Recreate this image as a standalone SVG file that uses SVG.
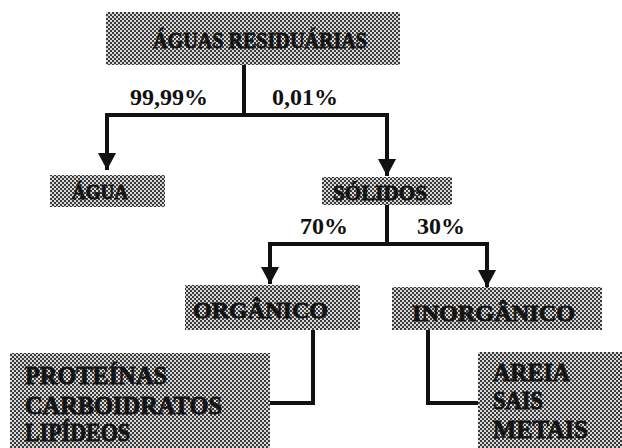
<svg xmlns="http://www.w3.org/2000/svg" width="622" height="448" viewBox="0 0 622 448">
  <defs>
    <pattern id="dots" width="4" height="4" patternUnits="userSpaceOnUse">
      <rect width="4" height="4" fill="#d8d8d8"/>
      <rect x="0" y="0" width="2" height="2" fill="#3a3a3a"/>
      <rect x="2" y="2" width="2" height="2" fill="#3a3a3a"/>
    </pattern>
    <marker id="arrow" markerUnits="userSpaceOnUse" markerWidth="20" markerHeight="20" viewBox="0 0 20 20" refX="17" refY="10" orient="auto">
      <path d="M0,1 L17,10 L0,19 Z" fill="#111"/>
    </marker>
  </defs>
  <style>
    .box { fill: url(#dots); }
    .lbl { font-family: "Liberation Serif", "Times New Roman", serif; font-weight: bold; fill: #141414; stroke: #141414; stroke-width: 0.8; }
    .pct { font-family: "Liberation Serif", "Times New Roman", serif; font-weight: bold; fill: #111; font-size: 24px; }
    .ln { fill: none; stroke: #111; stroke-width: 4; stroke-linejoin: miter; }
  </style>
  <rect width="622" height="448" fill="#ffffff"/>

  <g id="connectors">
    <path class="ln" d="M244,65 V115"/>
    <path class="ln" d="M105,115 H389"/>
    <path class="ln" d="M107,113 V170" marker-end="url(#arrow)"/>
    <path class="ln" d="M387,113 V176" marker-end="url(#arrow)"/>
    <path class="ln" d="M387,205 V244"/>
    <path class="ln" d="M268,244 H489"/>
    <path class="ln" d="M270,242 V284" marker-end="url(#arrow)"/>
    <path class="ln" d="M487,242 V287" marker-end="url(#arrow)"/>
    <path class="ln" d="M313,330 V403 H270"/>
    <path class="ln" d="M428,330 V403 H478"/>
    <text class="pct" x="130" y="105" textLength="78" lengthAdjust="spacingAndGlyphs">99,99%</text>
    <text class="pct" x="272" y="105" textLength="66" lengthAdjust="spacingAndGlyphs">0,01%</text>
    <text class="pct" x="300" y="234" textLength="48" lengthAdjust="spacingAndGlyphs">70%</text>
    <text class="pct" x="417" y="234" textLength="48" lengthAdjust="spacingAndGlyphs">30%</text>
  </g>

  <g id="aguas-residuarias">
    <rect class="box" x="106" y="12" width="294" height="53"/>
    <text class="lbl" x="153" y="48" font-size="24" textLength="214" lengthAdjust="spacingAndGlyphs">ÁGUAS RESIDUÁRIAS</text>
  </g>
  <g id="agua">
    <rect class="box" x="50" y="175" width="115" height="32"/>
    <text class="lbl" x="72" y="199" font-size="20" textLength="56" lengthAdjust="spacingAndGlyphs">ÁGUA</text>
  </g>
  <g id="solidos">
    <rect class="box" x="322" y="177" width="130" height="28"/>
    <text class="lbl" x="333" y="200" font-size="20" textLength="94" lengthAdjust="spacingAndGlyphs">SÓLIDOS</text>
  </g>
  <g id="organico">
    <rect class="box" x="185" y="285" width="175" height="45"/>
    <text class="lbl" x="193" y="318" font-size="23" textLength="135" lengthAdjust="spacingAndGlyphs">ORGÂNICO</text>
  </g>
  <g id="inorganico">
    <rect class="box" x="392" y="287" width="210" height="43"/>
    <text class="lbl" x="412" y="321" font-size="23" textLength="163" lengthAdjust="spacingAndGlyphs">INORGÂNICO</text>
  </g>
  <g id="organicos-lista">
    <rect class="box" x="10" y="353" width="260" height="95"/>
    <text class="lbl" x="25" y="384" font-size="25" textLength="142" lengthAdjust="spacingAndGlyphs">PROTEÍNAS</text>
    <text class="lbl" x="25" y="414" font-size="25" textLength="197" lengthAdjust="spacingAndGlyphs">CARBOIDRATOS</text>
    <text class="lbl" x="25" y="441" font-size="25" textLength="105" lengthAdjust="spacingAndGlyphs">LIPÍDEOS</text>
  </g>
  <g id="inorganicos-lista">
    <rect class="box" x="478" y="352" width="144" height="96"/>
    <text class="lbl" x="493" y="381" font-size="25" textLength="77" lengthAdjust="spacingAndGlyphs">AREIA</text>
    <text class="lbl" x="493" y="409" font-size="25" textLength="50" lengthAdjust="spacingAndGlyphs">SAIS</text>
    <text class="lbl" x="493" y="438" font-size="25" textLength="95" lengthAdjust="spacingAndGlyphs">METAIS</text>
  </g>
</svg>
